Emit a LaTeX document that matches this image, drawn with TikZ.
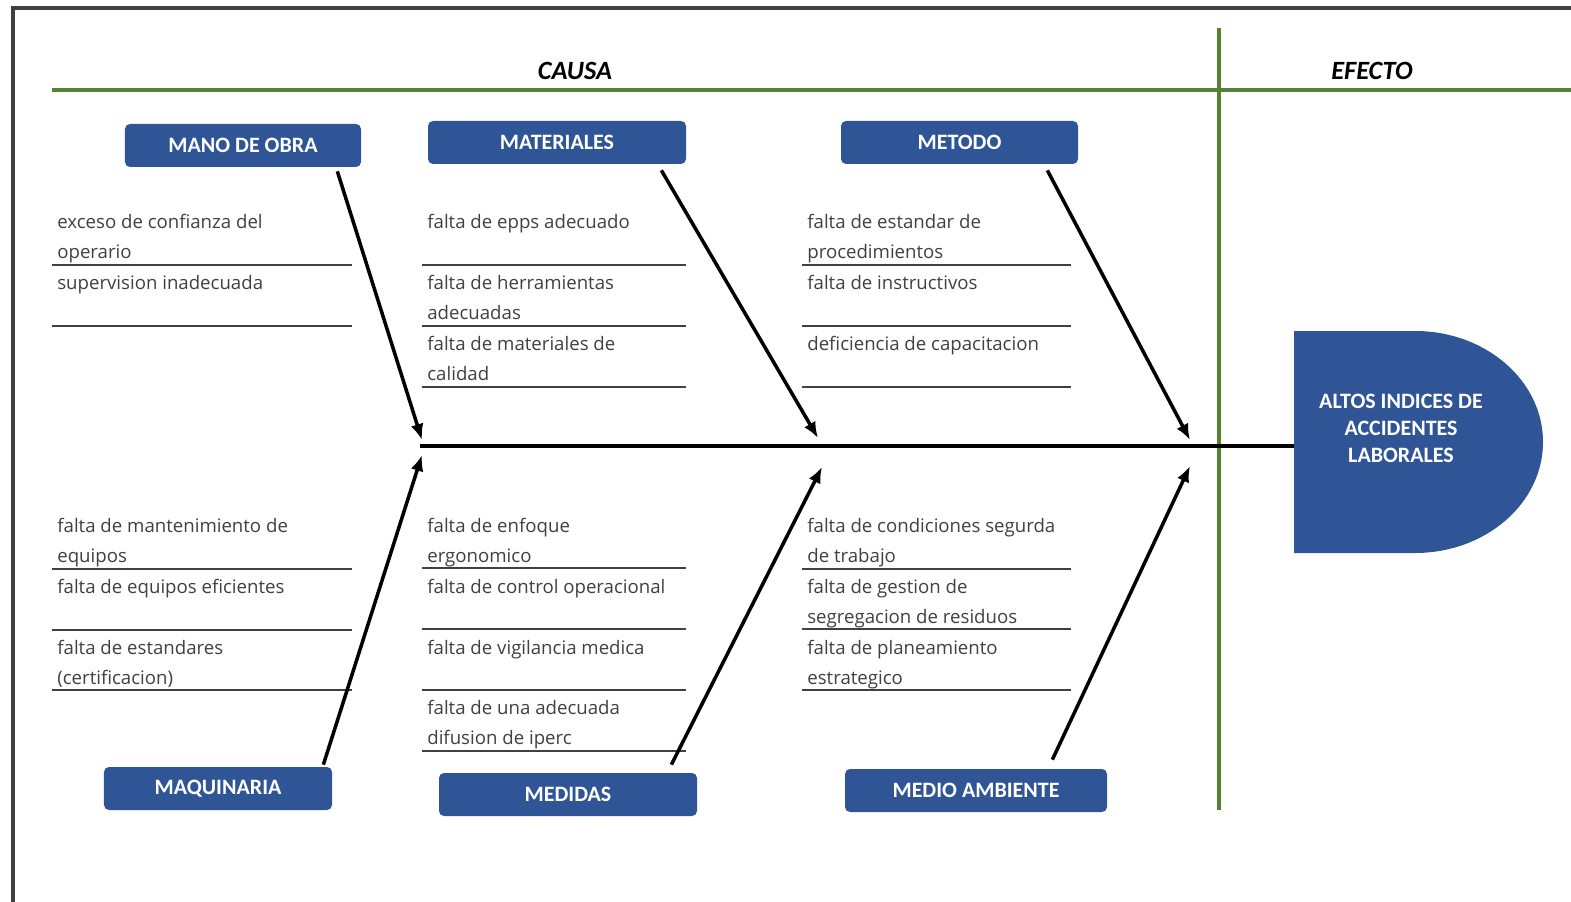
\documentclass[tikz,border=0pt]{standalone}
\usepackage{fontspec}
\setmainfont{Open Sans}
\newfontfamily\calibri{Carlito}
\usetikzlibrary{arrows.meta,calc}
\definecolor{azul}{RGB}{47,85,151}
\definecolor{verde}{RGB}{84,130,53}
\definecolor{texto}{RGB}{64,64,64}
\tikzset{
  caja/.style={fill=azul, rounded corners=1mm, minimum height=8.6mm, text=white,
    font=\calibri\bfseries\fontsize{12.5}{14}\selectfont},
  item/.style={anchor=north west, inner sep=0pt, align=left, text=texto,
    font=\fontsize{10.6}{17.1}\selectfont},
  raya/.style={line width=1.1pt, draw=texto},
  hueso/.style={line width=2pt, -{Latex[length=3.2mm,width=2.6mm]}},
}
\begin{document}
\begin{tikzpicture}[x=0.2mm, y=-0.2mm]
              \useasboundingbox (0,0) rectangle (1571,902);
              \draw[line width=2pt, draw=black!75] (13,902) -- (13,8) -- (1571,8);

              \begin{scope}[line width=2pt, draw=verde]
                  \draw (52,90) -- (1571,90);
                  \draw (1219,28) -- (1219,810);
              \end{scope}
              \node[font=\calibri\bfseries\itshape\fontsize{15}{18}\selectfont] (causa) at (575,71) {CAUSA};
              \node[font=\calibri\bfseries\itshape\fontsize{15}{18}\selectfont] (efect) at (1372,71) {EFECTO};

              \node[caja, minimum width=47.2mm] (manoobra) at (243,145.5) {\raisebox{-1pt}{MANO DE OBRA}};
              \node[caja, minimum width=51.6mm] (materiales) at (557,142.5) {\raisebox{-1pt}{MATERIALES}};
              \node[caja, minimum width=47.4mm] (metodo) at (959.5,142.5) {\raisebox{-1pt}{METODO}};
              \node[caja, minimum width=45.6mm] (maquinaria) at (218,788.5) {\raisebox{-1pt}{MAQUINARIA}};
              \node[caja, minimum width=51.6mm] (medidas) at (568,794.5) {\raisebox{-1pt}{MEDIDAS}};
              \node[caja, minimum width=52.4mm] (ambiente) at (976,790.5) {\raisebox{-1pt}{MEDIO AMBIENTE}};

              \node[item] (mo1) at (57,214) {exceso de confianza del\\operario};
              \node[item] (mo2) at (57,275) {supervision inadecuada};
              \node[item] (ma1) at (427,214) {falta de epps adecuado};
              \node[item] (ma2) at (427,275) {falta de herramientas\\adecuadas};
              \node[item] (ma3) at (427,336) {falta de materiales de\\calidad};
              \node[item] (me1) at (807,214) {falta de estandar de\\procedimientos};
              \node[item] (me2) at (807,275) {falta de instructivos};
              \node[item] (me3) at (807,336) {deficiencia de capacitacion};

              \node[item] (mq1) at (57,518) {falta de mantenimiento de\\equipos};
              \node[item] (mq2) at (57,579) {falta de equipos eficientes};
              \node[item] (mq3) at (57,640) {falta de estandares\\(certificacion)};
              \node[item] (md1) at (427,518) {falta de enfoque\\ergonomico};
              \node[item] (md2) at (427,579) {falta de control operacional};
              \node[item] (md3) at (427,640) {falta de vigilancia medica};
              \node[item] (md4) at (427,700) {falta de una adecuada\\difusion de iperc};
              \node[item] (am1) at (807,518) {falta de condiciones segurda\\de trabajo};
              \node[item] (am2) at (807,579) {falta de gestion de\\segregacion de residuos};
              \node[item] (am3) at (807,640) {falta de planeamiento\\estrategico};

              \foreach \y in {265,326} \draw[raya] (52,\y) -- (352,\y);
              \foreach \y in {265,326,387} \draw[raya] (422,\y) -- (686,\y);
              \foreach \y in {265,326,387} \draw[raya] (802,\y) -- (1071,\y);
              \foreach \y in {569,630,690} \draw[raya] (52,\y) -- (352,\y);
              \foreach \y in {568,629,690,751} \draw[raya] (422,\y) -- (686,\y);
              \foreach \y in {569,629,690} \draw[raya] (802,\y) -- (1071,\y);

              \fill[azul] (1294,331) -- (1415,331) arc[start angle=-90, end angle=90, x radius=128, y radius=111]
                  -- (1294,553) -- cycle;
              \node[align=center, text=white, font=\calibri\bfseries\fontsize{12.5}{15.4}\selectfont] (efecto) at (1401,428)
                  {ALTOS INDICES DE\\ACCIDENTES\\LABORALES};

              \coordinate (cola) at (420,446);
              \coordinate (boca) at (1294,446);
              \coordinate (h1) at (422,440);
              \coordinate (h2) at (818,438);
              \coordinate (h3) at (1190,440);
              \coordinate (h4) at (422,455);
              \coordinate (h5) at (822,467);
              \coordinate (h6) at (1190,466);

              \draw[line width=2.2pt] (cola) -- (boca);
              \begin{scope}[hueso]
                  \draw ($(manoobra.south east)+(-24,4)$) -- (h1);
                  \draw ($(materiales.south east)+(-25,6)$) -- (h2);
                  \draw ($(metodo.south east)+(-31,6)$) -- (h3);
                  \draw ($(maquinaria.north east)+(-9,-2)$) -- (h4);
                  \draw ($(medidas.north east)+(-26,-8)$) -- (h5);
                  \draw ($(ambiente.north east)+(-55,-9)$) -- (h6);
              \end{scope}

          \end{tikzpicture}
\end{document}
